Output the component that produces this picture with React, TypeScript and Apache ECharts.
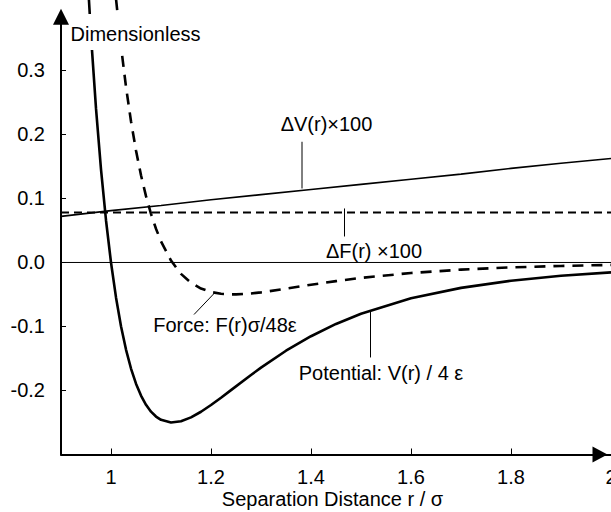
import React, { useEffect, useRef } from "react";
import * as echarts from "echarts";

// Lennard-Jones curves
const potentialR = [0.94, 0.95, 0.96, 0.97, 0.98, 0.99, 1.0, 1.01, 1.02, 1.03, 1.04, 1.05, 1.06, 1.07, 1.08, 1.09, 1.1, 1.12, 1.14, 1.16, 1.18, 1.2, 1.22, 1.24, 1.28, 1.3, 1.35, 1.4, 1.45, 1.5, 1.6, 1.7, 1.8, 1.9, 2.0];
const potentialV = [0.652, 0.49, 0.3545, 0.2407, 0.1455, 0.066, 0.0, -0.0546, -0.0995, -0.1361, -0.1657, -0.1894, -0.208, -0.2223, -0.2331, -0.2407, -0.2458, -0.25, -0.248, -0.242, -0.2332, -0.2227, -0.2113, -0.1994, -0.1757, -0.1643, -0.1379, -0.1152, -0.096, -0.0801, -0.056, -0.0397, -0.0285, -0.0208, -0.0154];

const forceR = [1.0, 1.01, 1.02, 1.03, 1.04, 1.05, 1.06, 1.07, 1.08, 1.09, 1.1, 1.12, 1.14, 1.16, 1.18, 1.2, 1.22, 1.24, 1.25, 1.28, 1.3, 1.35, 1.4, 1.45, 1.5, 1.6, 1.7, 1.8, 1.9, 2.0];
const forceF = [0.5, 0.412, 0.3378, 0.2744, 0.2206, 0.175, 0.1363, 0.1036, 0.076, 0.0527, 0.0331, 0.003, -0.0178, -0.0317, -0.0407, -0.0461, -0.0489, -0.0499, -0.0499, -0.0484, -0.0467, -0.041, -0.0348, -0.0291, -0.0241, -0.0164, -0.0112, -0.0077, -0.0054, -0.0038];

const deltaVR = [0.9, 1.0, 1.1, 1.2, 1.3, 1.4, 1.5, 1.6, 1.7, 1.8, 1.9, 2.0];
const deltaV = [0.072, 0.081, 0.089, 0.098, 0.106, 0.114, 0.122, 0.13, 0.138, 0.147, 0.155, 0.1625];

const deltaFR = [0.9, 2.0];
const deltaF = [0.078, 0.078];

const zeroR = [0.9, 2.0];
const zeroV = [0, 0];

const xTicks = [1, 1.2, 1.4, 1.6, 1.8, 2];
const yTicks = [-0.2, -0.1, 0, 0.1, 0.2, 0.3];

// annotation labels and leader lines, in data coordinates
const annotations = [
  { text: "\u0394V(r)\u00d7100", at: [1.431, 0.2156], from: [1.382, 0.1886], to: [1.382, 0.1156] },
  { text: "\u0394F(r) \u00d7100", at: [1.526, 0.0172], from: [1.467, 0.0844], to: [1.467, 0.0406] },
  { text: "Force: F(r)\u03c3/48\u03b5", at: [1.228, -0.0969], from: [1.166, -0.0813], to: [1.208, -0.0469] },
  { text: "Potential: V(r) / 4 \u03b5", at: [1.54, -0.1719], from: [1.519, -0.0766], to: [1.519, -0.1484] },
];

const FONT = '"Liberation Sans", Arial, sans-serif';

const zip = (xs: number[], ys: number[]) => xs.map((x, i) => [x, ys[i]]);

export default function App() {
  const ref = useRef<HTMLDivElement>(null);
  useEffect(() => {
    if (!ref.current) return;
    const chart = echarts.init(ref.current, undefined, { renderer: "svg" });
    chart.setOption({
      animation: false,
      backgroundColor: "#fff",
      grid: { left: 61, right: 0, top: 16.7, bottom: 57.5, containLabel: false, outerBoundsMode: "none" },
      xAxis: {
        type: "value",
        min: 0.9,
        max: 2,
        position: "bottom",
        splitLine: { show: false },
        axisLine: {
          show: true,
          onZero: false,
          symbol: ["none", "triangle"],
          symbolSize: [16, 15],
          symbolOffset: [0, -11],
          lineStyle: { color: "#000", width: 2 },
        },
        axisTick: { show: true, inside: true, length: 6, customValues: xTicks, lineStyle: { color: "#000", width: 1 } },
        axisLabel: {
          customValues: xTicks,
          formatter: (v: number) => String(v),
          color: "#000",
          fontSize: 20,
          fontFamily: FONT,
          margin: 12,
        },
      },
      yAxis: {
        type: "value",
        min: -0.3,
        max: 0.384,
        splitLine: { show: false },
        axisLine: {
          show: true,
          onZero: false,
          symbol: ["none", "triangle"],
          symbolSize: [16, 16],
          lineStyle: { color: "#000", width: 2 },
        },
        axisTick: { show: true, inside: true, length: 5, customValues: yTicks, lineStyle: { color: "#000", width: 1 } },
        axisLabel: {
          customValues: yTicks,
          formatter: (v: number) => v.toFixed(1),
          color: "#000",
          fontSize: 20,
          fontFamily: FONT,
          margin: 16,
        },
      },
      series: [
        {
          name: "zero",
          type: "line",
          data: zip(zeroR, zeroV),
          symbol: "none",
          silent: true,
          lineStyle: { color: "#000", width: 1 },
        },
        {
          name: "deltaV",
          type: "line",
          data: zip(deltaVR, deltaV),
          symbol: "none",
          silent: true,
          lineStyle: { color: "#000", width: 1.6 },
        },
        {
          name: "deltaF",
          type: "line",
          data: zip(deltaFR, deltaF),
          symbol: "none",
          silent: true,
          lineStyle: { color: "#000", width: 2, type: [8, 5] },
        },
        {
          name: "force",
          type: "line",
          data: zip(forceR, forceF),
          symbol: "none",
          silent: true,
          clip: false,
          lineStyle: { color: "#000", width: 2.6, type: [11, 8] },
        },
        {
          name: "potential",
          type: "line",
          data: zip(potentialR, potentialV),
          symbol: "none",
          silent: true,
          clip: false,
          lineStyle: { color: "#000", width: 2.6 },
        },
      ],
    });

    const px = (p: number[]) => chart.convertToPixel({ gridIndex: 0 }, p) as number[];
    const graphics: any[] = [];
    annotations.forEach((a) => {
      const c = px(a.at);
      const f = px(a.from);
      const t = px(a.to);
      graphics.push({
        type: "line",
        z: 100,
        shape: { x1: f[0], y1: f[1], x2: t[0], y2: t[1] },
        style: { stroke: "#000", lineWidth: 1 },
      });
      graphics.push({
        type: "text",
        z: 100,
        x: c[0],
        y: c[1],
        style: { text: a.text, fill: "#000", font: `20px ${FONT}`, align: "center", verticalAlign: "middle" },
      });
    });
    graphics.push({
      type: "text",
      z: 100,
      x: 70.5,
      y: 14,
      style: {
        text: "Dimensionless",
        fill: "#000",
        font: `20px ${FONT}`,
        align: "left",
        verticalAlign: "top",
        backgroundColor: "#fff",
        padding: [10, 2, 6, 0],
      },
    });
    graphics.push({
      type: "text",
      z: 100,
      x: 332.5,
      y: 499,
      style: { text: "Separation Distance r / \u03c3", fill: "#000", font: `20px ${FONT}`, align: "center", verticalAlign: "middle" },
    });
    chart.setOption({ graphic: graphics });

    return () => chart.dispose();
  }, []);
  return <div ref={ref} style={{ position: "fixed", left: 0, top: 0, width: 611, height: 512 }} />;
}
